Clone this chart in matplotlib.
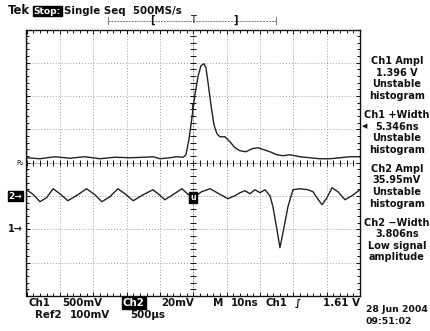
import numpy as np
import matplotlib
matplotlib.use("Agg")
import matplotlib.pyplot as plt
from matplotlib.lines import Line2D

# time axis: 10 ns/div, trigger at centre
t_min, t_max = -50, 50
ns_per_div = 10

# Ch1 (500 mV/div, ground marker 2 div below centre)
ch1_pos = -2.0
ch1_volts_per_div = 0.5
ch1_t = [-50, -46, -41.5, -37, -32.5, -28, -23.5, -19, -14.5, -12, -10, -7, -5, -3,
         -2.2, -1.3, -0.4, 0.5, 1.4, 2.3, 3.2, 3.8, 4.4, 5.3, 6.2, 7.1, 8.0, 9.5,
         11.0, 12.5, 14.0, 15.8, 17.6, 19.4, 21.2, 23.0, 25.1, 26.9, 29.0, 32.0,
         35.0, 38.0, 41.0, 44.0, 47.0, 50.0]
ch1_v = [1.075, 1.06, 1.09, 1.068, 1.09, 1.06, 1.083, 1.075, 1.083, 1.09, 1.06, 1.075, 1.09, 1.083,
         1.12, 1.345, 1.675, 2.02, 2.29, 2.456, 2.486, 2.426, 2.216, 1.871, 1.571, 1.435, 1.39, 1.39,
         1.315, 1.225, 1.18, 1.165, 1.21, 1.225, 1.195, 1.165, 1.12, 1.105, 1.12, 1.09,
         1.075, 1.06, 1.06, 1.075, 1.09, 1.09]

# Ch2 (20 mV/div, ground marker 1 div below centre)
ch2_pos = -1.0
ch2_mv_per_div = 20
ch2_t = [-50, -48, -46, -44, -42, -40, -37.6, -34.6, -32, -29.5, -27.4, -25, -22.6, -20.5,
         -18, -15, -12.1, -10.3, -8.5, -6.1, -3.4, -1.8, 0, 2.5, 5, 7.7, 10.4, 12.5, 14,
         15.5, 17, 18.5, 20, 21.5, 23, 23.9, 25.1, 26, 26.9, 28.4, 29.9, 32, 34.4, 35.9,
         37.1, 38.6, 40.1, 41.6, 43.4, 45.5, 47.6, 50]
ch2_mv = [3.8, 1.0, -3.4, -1.0, 4.4, 1.4, -2.8, 0.8, 4.4, 0.8, -3.4, -0.4, 4.4, 1.4,
          -2.8, 0.8, 3.8, 1.0, -2.2, 0.8, 4.4, 1.4, -1.0, 2.6, 4.4, 1.4, -1.6, 0.2, 2.0,
          3.2, 1.4, 3.8, 2.0, 3.8, 0.2, -6.4, -20.2, -31.0, -22.0, -6.4, 3.8, 4.4, 3.8, 2.6,
          -1.0, -5.2, -1.0, 5.0, 2.6, -2.2, 0.2, 3.8]

ref2_pos = 0.0
trig_level = 1.61

header = "Single Seq  500MS/s"
readouts = [
    ["Ch1 Ampl", "1.396 V", "Unstable", "histogram"],
    ["Ch1 +Width", "5.346ns", "Unstable", "histogram"],
    ["Ch2 Ampl", "35.95mV", "Unstable", "histogram"],
    ["Ch2 \u2212Width", "3.806ns", "Low signal", "amplitude"],
]
date_lines = ["28 Jun 2004", "09:51:02"]

W, H = 431, 331
FS = 7.4
SIDE_FS = 7.0
INK = "#111111"
BOLD = "bold"


def fx(px):
    return px / W


def fy(py):
    return 1 - py / H


fig = plt.figure(figsize=(W / 100, H / 100), dpi=100)
fig.patch.set_facecolor("white")

ax = fig.add_axes([fx(26.5), fy(296), 333.5 / W, 266.5 / H])
ax.set_xlim(t_min, t_max)
ax.set_ylim(-4, 4)
ax.set_facecolor("white")
for s in ax.spines.values():
    s.set_color(INK)
    s.set_linewidth(1.0)

# graticule
ax.set_xticks(np.arange(t_min, t_max + 1, ns_per_div))
ax.set_yticks(np.arange(-4, 5, 1))
ax.set_xticks(np.arange(t_min, t_max + 0.1, ns_per_div / 5), minor=True)
ax.set_yticks(np.arange(-4, 4.01, 0.2), minor=True)
ax.tick_params(which="both", direction="in", top=True, right=True,
               labelbottom=False, labelleft=False, color=INK, width=0.7)
ax.tick_params(which="major", length=3)
ax.tick_params(which="minor", length=2.5)
ax.grid(True, which="major", color="#9a9a9a", linestyle=(0, (1, 2)), linewidth=0.7)

# centre cross ticks
cx = np.arange(t_min, t_max + 0.1, ns_per_div / 5)
ax.plot(cx, np.zeros_like(cx), linestyle="none", marker="|", markersize=5,
        color=INK, markeredgewidth=0.7)
cy = np.arange(-4, 4.01, 0.2)
ax.plot(np.zeros_like(cy), cy, linestyle="none", marker="_", markersize=5,
        color=INK, markeredgewidth=0.7)
ax.axhline(0, color=INK, lw=0.4, alpha=0.35)
ax.axvline(0, color=INK, lw=0.4, alpha=0.35)

# traces
ax.plot(ch1_t, np.array(ch1_v) / ch1_volts_per_div + ch1_pos, color="#222222", lw=1.0)
ax.plot(ch2_t, np.array(ch2_mv) / ch2_mv_per_div + ch2_pos, color="#222222", lw=1.0)

# trigger point markers on traces
ax.text(0, np.interp(0, ch1_t, ch1_v) / ch1_volts_per_div + ch1_pos, "T",
        ha="center", va="center", fontsize=6, color=INK, fontweight="bold")
ax.text(0, np.interp(0, ch2_t, ch2_mv) / ch2_mv_per_div + ch2_pos, "u",
        ha="center", va="center", fontsize=5.5, color="white", fontweight="bold",
        bbox=dict(boxstyle="square,pad=0.15", fc="black", ec="black"))

# channel markers on the left
ax.text(-0.012, ch2_pos, "2\u2192", transform=ax.get_yaxis_transform(),
        ha="right", va="center", fontsize=6.5, color="white", fontweight="bold",
        bbox=dict(boxstyle="square,pad=0.1", fc="black", ec="black"))
ax.text(-0.012, ch1_pos, "1\u2192", transform=ax.get_yaxis_transform(),
        ha="right", va="center", fontsize=7, color=INK, fontweight="bold")
ax.text(-0.006, ref2_pos, "R\u2082", transform=ax.get_yaxis_transform(),
        ha="right", va="center", fontsize=5, color=INK)
# trigger level arrow on the right
ax.text(1.006, (trig_level - 0.06) / ch1_volts_per_div + ch1_pos, "\u25C0",
        transform=ax.get_yaxis_transform(), ha="left", va="center", fontsize=5, color=INK)

# header
fig.text(fx(8), fy(11), "Tek", fontsize=FS + 1, fontweight="bold", color=INK, va="center")
fig.text(fx(33.5), fy(11), "Stop:", fontsize=FS - 0.8, fontweight="bold", color="white", va="center",
         bbox=dict(boxstyle="square,pad=0.1", fc="black", ec="black"))
fig.text(fx(64), fy(11), header, fontsize=FS, fontweight=BOLD, color=INK, va="center")

# record position bar
fig.add_artist(Line2D([fx(108), fx(276)], [fy(20.5), fy(20.5)], color="#777777",
                      lw=0.7, linestyle=(0, (2, 1))))
for px in (108, 276):
    fig.add_artist(Line2D([fx(px), fx(px)], [fy(17), fy(24)], color="#777777", lw=0.7))
fig.text(fx(152), fy(20), "[", fontsize=7, color=INK, ha="center", va="center", fontweight="bold")
fig.text(fx(193), fy(20), "T", fontsize=7, color=INK, ha="center", va="center")
fig.text(fx(236), fy(20), "]", fontsize=7, color=INK, ha="center", va="center", fontweight="bold")

# measurement readouts
y0 = 61
for block in readouts:
    for line in block:
        fig.text(fx(397), fy(y0), line, fontsize=SIDE_FS, fontweight=BOLD, color=INK,
                 ha="center", va="center")
        y0 += 11.6
    y0 += 7.5

fig.text(fx(366), fy(309), date_lines[0], fontsize=SIDE_FS - 0.3, fontweight=BOLD, color=INK, va="center")
fig.text(fx(366), fy(321), date_lines[1], fontsize=SIDE_FS - 0.3, fontweight=BOLD, color=INK, va="center")

# bottom status line
row1 = 303
row2 = 314.5
fig.text(fx(29), fy(row1), "Ch1", fontsize=FS, fontweight=BOLD, color=INK, va="center")
fig.text(fx(62), fy(row1), "500mV", fontsize=FS, fontweight=BOLD, color=INK, va="center")
fig.text(fx(123), fy(row1), "Ch2", fontsize=FS, fontweight=BOLD, color="white", va="center",
         bbox=dict(boxstyle="square,pad=0.08", fc="black", ec="black"))
fig.text(fx(161), fy(row1), "20mV", fontsize=FS, fontweight=BOLD, color=INK, va="center")
fig.text(fx(213), fy(row1), "M", fontsize=FS, fontweight=BOLD, color=INK, va="center")
fig.text(fx(231), fy(row1), "10ns", fontsize=FS, fontweight=BOLD, color=INK, va="center")
fig.text(fx(265), fy(row1), "Ch1", fontsize=FS, fontweight=BOLD, color=INK, va="center")
fig.text(fx(298), fy(row1), "\u222B", fontsize=FS, fontweight=BOLD, color=INK, va="center", ha="center")
fig.text(fx(323), fy(row1), "1.61 V", fontsize=FS, fontweight=BOLD, color=INK, va="center")
fig.text(fx(35), fy(row2), "Ref2", fontsize=FS, fontweight=BOLD, color=INK, va="center")
fig.text(fx(70), fy(row2), "100mV", fontsize=FS, fontweight=BOLD, color=INK, va="center")
fig.text(fx(130), fy(row2), "500\u00b5s", fontsize=FS, fontweight=BOLD, color=INK, va="center")

fig.savefig("out.png", dpi=100, facecolor="white")
